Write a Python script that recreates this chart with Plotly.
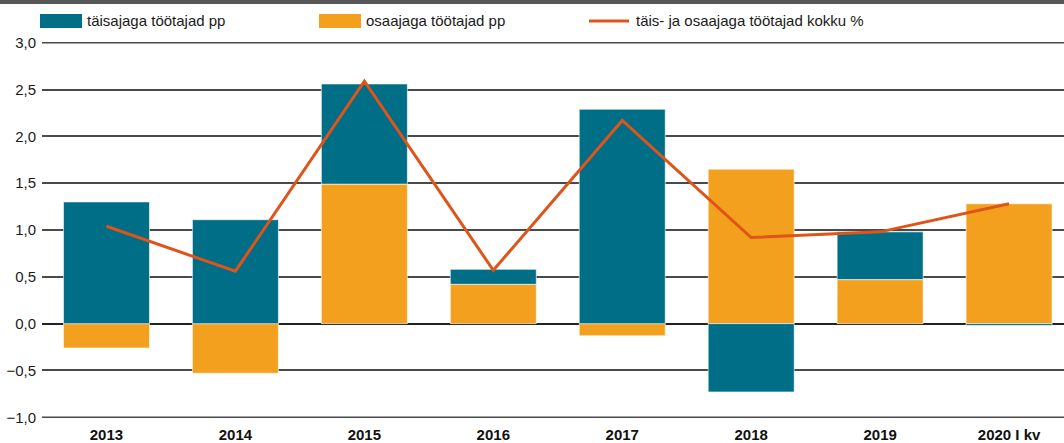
import plotly.graph_objects as go

categories = ["2013", "2014", "2015", "2016", "2017", "2018", "2019", "2020 I kv"]
taisajaga = [1.30, 1.11, 1.07, 0.16, 2.29, -0.73, 0.51, -0.02]
osaajaga = [-0.26, -0.53, 1.49, 0.42, -0.13, 1.65, 0.47, 1.28]
kokku = [1.04, 0.56, 2.59, 0.57, 2.17, 0.92, 0.98, 1.28]
y_ticks = [-1.0, -0.5, 0.0, 0.5, 1.0, 1.5, 2.0, 2.5, 3.0]

names = ["täisajaga töötajad pp", "osaajaga töötajad pp", "täis- ja osaajaga töötajad kokku %"]
TEAL = "#006e87"
ORANGE = "#f4a01f"
RED = "#df5419"
GRID = "#4a4a4a"
FONT = "Liberation Sans"

fig = go.Figure()
fig.add_trace(go.Bar(x=categories, y=osaajaga, name=names[1], marker_color=ORANGE,
                     marker_line=dict(color="rgba(255,255,255,0.6)", width=1), showlegend=False))
fig.add_trace(go.Bar(x=categories, y=taisajaga, name=names[0], marker_color=TEAL,
                     marker_line=dict(color="rgba(255,255,255,0.6)", width=1), showlegend=False))
fig.add_trace(go.Scatter(x=categories, y=kokku, name=names[2], mode="lines",
                         line=dict(color=RED, width=3), showlegend=False))

W, H = 1064, 443
ml, mr, mt, mb = 42, 0, 42, 25
pw = W - ml - mr
ph = H - mt - mb

def px_x(p):
    return (p - ml) / pw

def px_y(p):
    return (H - mb - p) / ph

shapes = []
annotations = []
# edge gridlines (first and last tick)
for v in (y_ticks[0], y_ticks[-1]):
    shapes.append(dict(type="line", xref="paper", yref="y", x0=0, x1=1, y0=v, y1=v,
                       line=dict(color=GRID, width=1.5), layer="below"))
# top dark band
shapes.append(dict(type="rect", xref="paper", yref="paper", x0=px_x(0), x1=px_x(W), y0=px_y(4), y1=px_y(-1),
                   fillcolor="#575757", line=dict(width=0), layer="above"))
# manual legend
legend_items = [(40, TEAL, "rect", names[0], 85), (319, ORANGE, "rect", names[1], 364),
                (589, RED, "line", names[2], 634)]
for x0, col, kind, label, tx in legend_items:
    if kind == "rect":
        shapes.append(dict(type="rect", xref="paper", yref="paper", x0=px_x(x0), x1=px_x(x0 + 42),
                           y0=px_y(28), y1=px_y(14), fillcolor=col, line=dict(width=0)))
    else:
        shapes.append(dict(type="line", xref="paper", yref="paper", x0=px_x(x0), x1=px_x(x0 + 40),
                           y0=px_y(21), y1=px_y(21), line=dict(color=col, width=3)))
    annotations.append(dict(xref="paper", yref="paper", x=px_x(tx), y=px_y(21), text=label,
                            showarrow=False, xanchor="left", yanchor="middle",
                            font=dict(family=FONT, size=15, color="#1a1a1a")))

fig.update_layout(
    width=W, height=H,
    margin=dict(l=ml, r=mr, t=mt, b=mb, pad=0, autoexpand=False),
    barmode="relative",
    bargap=0.333,
    plot_bgcolor="white", paper_bgcolor="white",
    separators=", ",
    font=dict(family=FONT, size=15, color="#1a1a1a"),
    shapes=shapes,
    annotations=annotations,
    showlegend=False,
    xaxis=dict(range=[-0.5, 7.426], showgrid=False, zeroline=False, showline=False, ticks="",
               automargin=False,
               tickfont=dict(family=FONT, size=15, color="#111", weight="bold"), ticklabelstandoff=6),
    yaxis=dict(range=[-1.008, 3.008], tickvals=y_ticks, tickformat=".1f", showgrid=True,
               automargin=False,
               gridcolor=GRID, gridwidth=1.5, zeroline=True, zerolinecolor="#222", zerolinewidth=2,
               showline=False, ticks="", ticklabelstandoff=5,
               tickfont=dict(family=FONT, size=15, color="#1a1a1a")),
)

fig.write_html("out.html", config={"displayModeBar": False},
               post_script="document.body.style.margin='0';document.body.style.overflow='hidden';")
